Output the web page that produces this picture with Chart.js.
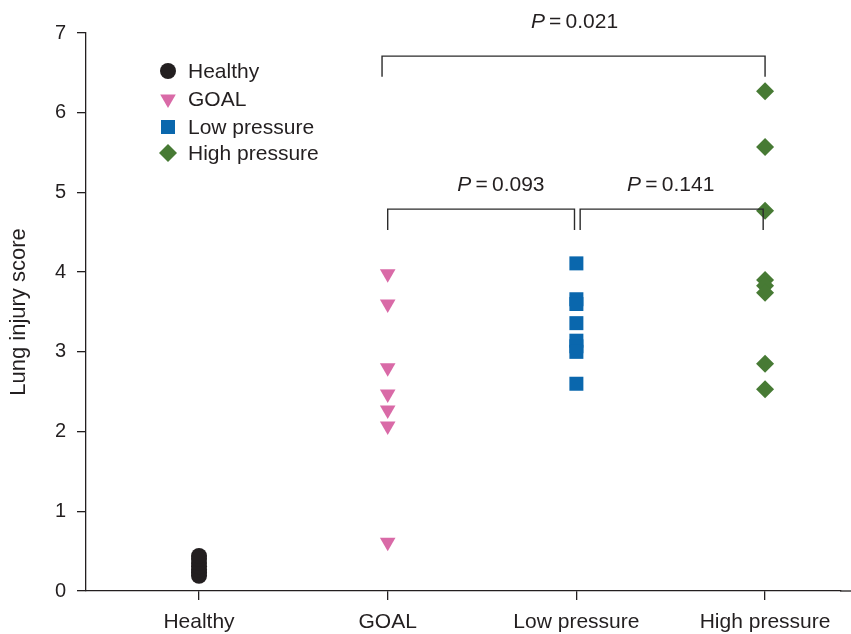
<!DOCTYPE html>
<html>
<head>
<meta charset="utf-8">
<script src="https://cdn.jsdelivr.net/npm/chart.js@4.4.1/dist/chart.umd.min.js"></script>
<style>
  html, body { margin: 0; padding: 0; background: #ffffff; }
  #c { display: block; }
</style>
</head>
<body>
<canvas id="c" width="851" height="634"></canvas>
<script>
// ---- data ----
const categories = ["Healthy", "GOAL", "Low pressure", "High pressure"];
const categoryPositions = [1, 2, 3, 4];
const yTicks = [0, 1, 2, 3, 4, 5, 6, 7];

const healthyValues = [0.19, 0.23, 0.27, 0.31, 0.35, 0.40, 0.44];
const goalValues = [3.98, 3.60, 2.80, 2.47, 2.27, 2.07, 0.61];
const lowPressureValues = [4.11, 3.66, 3.60, 3.36, 3.14, 3.07, 3.00, 2.60];
const highPressureValues = [6.27, 5.57, 4.77, 3.90, 3.83, 3.74, 2.85, 2.53];

const seriesNames = ["Healthy", "GOAL", "Low pressure", "High pressure"];
const seriesColors = ["#231f20", "#d96aa7", "#0a67ad", "#477a34"];

// significance brackets
const bracketFrom = [1.97, 2.00, 3.02];
const bracketTo = [4.00, 2.99, 3.99];
const bracketTop = [6.71, 4.79, 4.79];
const bracketBottom = [6.45, 4.53, 4.53];
const pLabels = ["0.021", "0.093", "0.141"];
const pLabelX = [2.99, 2.60, 3.50];
const pLabelY = [7.14, 5.09, 5.09];

const FONT = '"Liberation Sans", Arial, Helvetica, sans-serif';
const INK = '#231f20';

function pts(x, vals) { return vals.map(v => ({ x: x, y: v })); }

const bracketPlugin = {
  id: 'brackets',
  afterDatasetsDraw(chart) {
    const ctx = chart.ctx;
    const xs = chart.scales.x, ys = chart.scales.y;
    ctx.save();
    // extend the x-axis baseline to the right edge of the figure
    ctx.strokeStyle = INK;
    ctx.lineWidth = 1.3;
    ctx.beginPath();
    ctx.moveTo(chart.chartArea.right - 1, ys.getPixelForValue(0));
    ctx.lineTo(chart.width, ys.getPixelForValue(0));
    ctx.stroke();

    ctx.strokeStyle = '#2b2b2b';
    ctx.lineWidth = 1.4;
    for (let i = 0; i < bracketFrom.length; i++) {
      const x1 = xs.getPixelForValue(bracketFrom[i]);
      const x2 = xs.getPixelForValue(bracketTo[i]);
      const yT = ys.getPixelForValue(bracketTop[i]);
      const yB = ys.getPixelForValue(bracketBottom[i]);
      ctx.beginPath();
      ctx.moveTo(x1, yB); ctx.lineTo(x1, yT); ctx.lineTo(x2, yT); ctx.lineTo(x2, yB);
      ctx.stroke();
      // label
      const cx = xs.getPixelForValue(pLabelX[i]);
      const cy = ys.getPixelForValue(pLabelY[i]);
      const rest = '\u2009=\u2009' + pLabels[i];
      ctx.fillStyle = INK;
      ctx.textBaseline = 'middle';
      ctx.font = 'italic 21px ' + FONT;
      const wP = ctx.measureText('P').width;
      ctx.font = '21px ' + FONT;
      const wR = ctx.measureText(rest).width;
      const start = cx - (wP + wR) / 2;
      ctx.textAlign = 'left';
      ctx.font = 'italic 21px ' + FONT;
      ctx.fillText('P', start, cy);
      ctx.font = '21px ' + FONT;
      ctx.fillText(rest, start + wP, cy);
    }
    ctx.restore();
  }
};

function drawMarker(ctx, style, x, y, color) {
  ctx.fillStyle = color;
  ctx.beginPath();
  if (style === 'circle') {
    ctx.arc(x, y, 8, 0, Math.PI * 2);
  } else if (style === 'tri') {
    const r = 9;
    ctx.moveTo(x, y + r);
    ctx.lineTo(x - r * 0.866, y - r / 2);
    ctx.lineTo(x + r * 0.866, y - r / 2);
    ctx.closePath();
  } else if (style === 'rect') {
    ctx.rect(x - 7, y - 7, 14, 14);
  } else {
    const r = 9;
    ctx.moveTo(x - r, y); ctx.lineTo(x, y - r); ctx.lineTo(x + r, y); ctx.lineTo(x, y + r);
    ctx.closePath();
  }
  ctx.fill();
}

const legendPlugin = {
  id: 'customLegend',
  afterDraw(chart) {
    const ctx = chart.ctx;
    const styles = ['circle', 'tri', 'rect', 'diamond'];
    const ys = [71, 99, 127, 153];
    ctx.save();
    for (let i = 0; i < seriesNames.length; i++) {
      drawMarker(ctx, styles[i], 168, ys[i], seriesColors[i]);
      ctx.fillStyle = INK;
      ctx.font = '21px ' + FONT;
      ctx.textBaseline = 'middle';
      ctx.textAlign = 'left';
      ctx.fillText(seriesNames[i], 188, ys[i] + 1);
    }
    ctx.restore();
  }
};

new Chart(document.getElementById('c'), {
  type: 'scatter',
  data: {
    datasets: [
      { label: seriesNames[0], data: pts(categoryPositions[0], healthyValues), pointStyle: 'circle', pointRadius: 8,
        backgroundColor: seriesColors[0], borderColor: seriesColors[0], borderWidth: 0 },
      { label: seriesNames[1], data: pts(categoryPositions[1], goalValues), pointStyle: 'triangle', rotation: 180, pointRadius: 9,
        backgroundColor: seriesColors[1], borderColor: seriesColors[1], borderWidth: 0 },
      { label: seriesNames[2], data: pts(categoryPositions[2], lowPressureValues), pointStyle: 'rect', pointRadius: 9.9,
        backgroundColor: seriesColors[2], borderColor: seriesColors[2], borderWidth: 0 },
      { label: seriesNames[3], data: pts(categoryPositions[3], highPressureValues), pointStyle: 'rectRot', pointRadius: 9,
        backgroundColor: seriesColors[3], borderColor: seriesColors[3], borderWidth: 0 }
    ]
  },
  options: {
    responsive: false,
    animation: false,
    devicePixelRatio: 1,
    layout: { padding: { top: 33, left: 0, right: 0, bottom: 0 } },
    plugins: { legend: { display: false }, tooltip: { enabled: false } },
    elements: { point: { hoverRadius: 9 } },
    scales: {
      x: {
        type: 'linear',
        min: 0.401,
        max: 4.403,
        afterBuildTicks(scale) { scale.ticks = categoryPositions.map(v => ({ value: v })); },
        afterFit(scale) { scale.height = 43; scale.paddingLeft = 0; scale.paddingRight = 0; },
        ticks: {
          autoSkip: false,
          maxRotation: 0,
          color: INK,
          font: { family: FONT, size: 21 },
          padding: 10,
          callback: (v, i) => categories[i]
        },
        grid: { drawOnChartArea: false, drawTicks: true, tickLength: 9, color: INK, lineWidth: 1.3 },
        border: { display: true, color: INK, width: 1.3 }
      },
      y: {
        min: 0,
        max: 7,
        afterBuildTicks(scale) { scale.ticks = yTicks.map(v => ({ value: v })); },
        afterFit(scale) { scale.width = 86; scale.paddingTop = 0; scale.paddingBottom = 0; },
        title: { display: true, text: 'Lung injury score', color: INK, font: { family: FONT, size: 22 }, padding: { top: 6, bottom: 0 } },
        ticks: { color: INK, font: { family: FONT, size: 20 }, padding: 11 },
        grid: { drawOnChartArea: false, drawTicks: true, tickLength: 9, color: INK, lineWidth: 1.3 },
        border: { display: true, color: INK, width: 1.3 }
      }
    }
  },
  plugins: [bracketPlugin, legendPlugin]
});
</script>
</body>
</html>
